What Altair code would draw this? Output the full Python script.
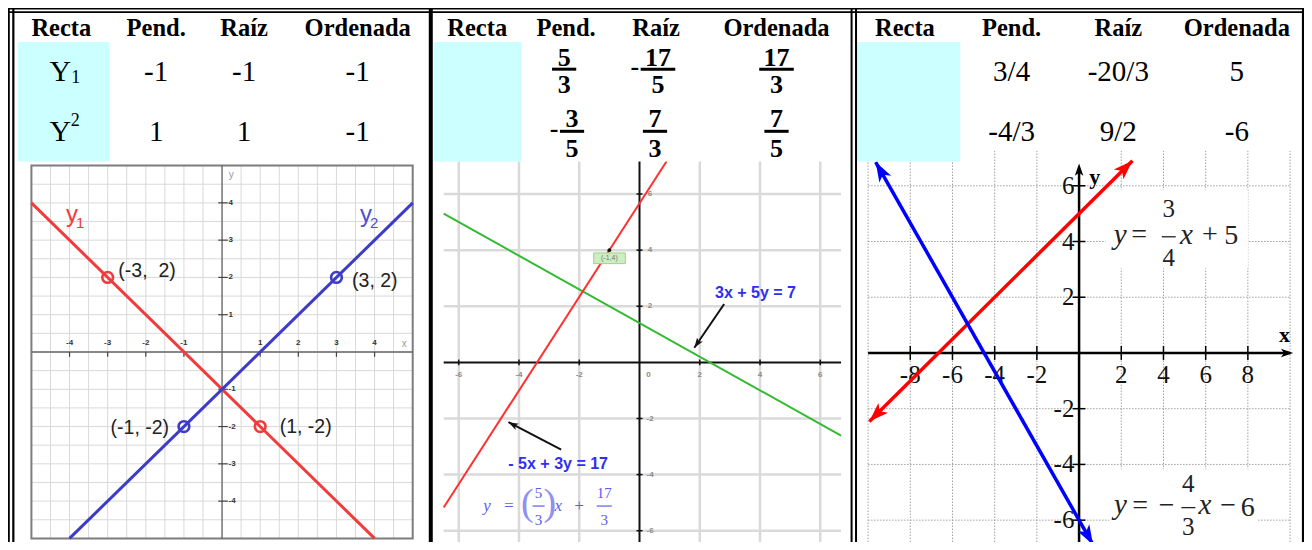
import math
import altair as alt
import pandas as pd

# ------------------------------------------------------------------ data
HEADERS = ["Recta", "Pend.", "Raíz", "Ordenada"]

T1_NAMES = ["Y", "Y"]
T1_INDEX = ["1", "2"]                      # subscript / superscript
T1_VALUES = [["-1", "-1", "-1"], ["1", "1", "-1"]]

T2_SIGNS = [["", "-", ""], ["-", "", ""]]
T2_NUMS = [["5", "17", "17"], ["3", "7", "7"]]
T2_DENS = [["3", "5", "3"], ["5", "3", "5"]]

T3_VALUES = [["3/4", "-20/3", "5"], ["-4/3", "9/2", "-6"]]

# graph 1 : y1 = -x - 1 , y2 = x - 1
G1_Y1_X = [-5, 4]
G1_Y1_Y = [4, -5]
G1_Y2_X = [-4, 5]
G1_Y2_Y = [-5, 4]
G1_PT_X = [-3, 1, 3, -1]
G1_PT_Y = [2, -2, 2, -2]
G1_PT_LINE = ["y1", "y1", "y2", "y2"]
G1_PT_TEXT = ["(-3,\u00a0\u00a02)", "(1, -2)", "(3, 2)", "(-1, -2)"]
G1_TICKS = [-4, -3, -2, -1, 1, 2, 3, 4]
G1_GRID = [-5, -4.5, -4, -3.5, -3, -2.5, -2, -1.5, -1, -0.5, 0,
           0.5, 1, 1.5, 2, 2.5, 3, 3.5, 4, 4.5, 5]

# graph 2 : -5x + 3y = 17 , 3x + 5y = 7
G2_RED_X = [-6.5, 0.9]
G2_RED_Y = [-5.17, 7.17]
G2_GREEN_X = [-6.5, 6.69]
G2_GREEN_Y = [5.3, -2.61]
G2_POINT_X = [-1]
G2_POINT_Y = [4]
G2_POINT_TEXT = ["(-1,4)"]
G2_TICKS = [-6, -4, -2, 2, 4, 6]
G2_NOTES = ["3x + 5y = 7", "- 5x + 3y = 17"]
G2_NOTE_X = [3.85, -2.7]
G2_NOTE_Y = [2.49, -3.63]
G2_ARROW_FROM_X = [2.81, -2.60]
G2_ARROW_FROM_Y = [2.08, -3.11]
G2_ARROW_TO_X = [1.82, -4.35]
G2_ARROW_TO_Y = [0.52, -2.13]
G2_EQ_TEXT = ["y", "=", "x", "+"]
G2_EQ_X = [-5.06, -4.34, -2.70, -2.01]
G2_EQ_PAREN = ["(", ")"]
G2_EQ_PAREN_X = [-3.72, -2.98]
G2_EQ_NUM = ["5", "17"]
G2_EQ_DEN = ["3", "3"]
G2_EQ_FRAC_X = [-3.35, -1.17]

# graph 3 : y = 3/4 x + 5 , y = -4/3 x - 6
G3_RED_X = [-9.94, 2.53]
G3_RED_Y = [-2.46, 6.9]
G3_BLUE_X = [-9.64, 0.66]
G3_BLUE_Y = [6.85, -6.88]
G3_XTICKS = [-8, -6, -4, -2, 2, 4, 6, 8]
G3_YTICKS = [-6, -4, -2, 2, 4, 6]
G3_GRID_X = [-10, -8, -6, -4, -2, 2, 4, 6, 8, 10]
G3_EQ_TEXT = ["y", "=", "x", "+", "5", "y", "=", "\u2212", "x", "\u2212", "6"]
G3_EQ_X = [1.95, 2.85, 5.09, 6.20, 7.21, 1.96, 2.90, 4.15, 5.96, 7.06, 7.99]
G3_EQ_Y = [4.25, 4.22, 4.25, 4.22, 4.19, -5.45, -5.50, -5.50, -5.45, -5.50, -5.55]
G3_EQ_ITALIC = [True, False, True, False, False, True, False, False, True, False, False]
G3_EQ_NUM = ["3", "4"]
G3_EQ_DEN = ["4", "3"]
G3_EQ_FRAC_X = [4.25, 5.18]
G3_EQ_NUM_Y = [5.16, -4.72]
G3_EQ_BAR_Y = [4.17, -5.55]
G3_EQ_DEN_Y = [3.41, -6.25]

# ------------------------------------------------------------------ layout
W, H = 1296, 534
RW, RH = 1312, 550
SX, SY = W / RW, H / RH
SERIF = "Liberation Serif"
SANS = "Liberation Sans"
ARROW = "M0,0L0.7,2L0,1.5L-0.7,2Z"

# frame -> (x origin, x unit, y origin, y unit) in reference pixels
FRAMES = {
    "t": (0.0, 1.0, 0.0, -1.0),
    "g1": (216.7, 38.6, 354.3, 38.4),
    "g2": (639.3, 30.5, 365.0, 28.9),
    "g3": (1084.3, 21.36, 355.3, 28.7),
}

HEAD_Y = 22
ROW_Y = [65.5, 127.5]
P1_COLS = [54, 150, 239, 354]
P2_COLS = [475, 565, 656, 778]
P3_COLS = [908, 1016, 1124, 1244]
FR_CX = [[563, 658, 778], [571, 655, 778]]
FR_NUM_Y = [51, 114]
FR_BAR_Y = [63, 127]
FR_DEN_Y = [79, 145]
COVERS = [(7, 425, 6, 158), (431, 853, 6, 158), (860, 1309, 6, 147)]
CYAN = [(10, 103, 35, 158), (431, 520, 35, 158), (859, 964, 35, 158)]
BORDER_H = [(0.8, 1.6), (4.3, 1.6)]
BORDER_V = [(0.9, 1.8), (5.4, 2.2), (428, 4.0), (854, 2.0), (858.5, 2.0), (1311, 2.2)]


def df(**cols):
    n = 1
    for v in cols.values():
        if isinstance(v, (list, tuple)):
            n = len(v)
    return pd.DataFrame({k: (list(v) if isinstance(v, (list, tuple)) else [v] * n)
                         for k, v in cols.items()})


def scales(frame):
    ox, ux, oy, uy = FRAMES[frame]
    xs = alt.Scale(domain=[-ox / ux, (RW - ox) / ux], zero=False, nice=False)
    ys = alt.Scale(domain=[(oy - RH) / uy, oy / uy], zero=False, nice=False)
    return xs, ys


def lay(frame, data, mark, mark_kw, **enc):
    xs, ys = scales(frame)
    e = {"x": alt.X("x:Q", scale=xs, axis=None), "y": alt.Y("y:Q", scale=ys, axis=None)}
    if "x2" in data.columns:
        e["x2"] = alt.X2("x2:Q")
    if "y2" in data.columns:
        e["y2"] = alt.Y2("y2:Q")
    e.update(enc)
    return getattr(alt.Chart(data), "mark_" + mark)(**mark_kw).encode(**e)


def rule(frame, data, color, width, dash=None):
    kw = dict(color=color, strokeWidth=width)
    if dash:
        kw["strokeDash"] = dash
    return lay(frame, data, "rule", kw)


def text(frame, data, size, color="black", font=SERIF, weight="normal",
         style="normal", align="center", baseline="middle"):
    return lay(frame, data, "text",
               dict(fontSize=size, color=color, font=font, fontWeight=weight,
                    fontStyle=style, align=align, baseline=baseline),
               text=alt.Text("t:N"))


def head_angle(frame, x0, y0, x1, y1):
    ox, ux, oy, uy = FRAMES[frame]
    dx = (x1 - x0) * ux * SX
    dy = -(y1 - y0) * uy * SY
    return math.degrees(math.atan2(dx, -dy)) % 360


def heads(frame, segs, color, size):
    rows = [{"x": s[2], "y": s[3], "a": head_angle(frame, *s)} for s in segs]
    return lay(frame, pd.DataFrame(rows), "point",
               dict(shape=ARROW, filled=True, size=size, color=color, opacity=1, strokeWidth=0),
               angle=alt.Angle("a:Q", scale=None))


L = []

# ================================================================ graph 1
RED1, BLUE1 = "#f03c3c", "#3c3cc8"
L.append(rule("g1", df(x=G1_GRID, y=-5, y2=5), "#d9d9d9", 1))
L.append(rule("g1", df(y=G1_GRID, x=-5, x2=5), "#d9d9d9", 1))
L.append(lay("g1", df(x=-5, x2=5, y=-5, y2=5), "rect",
             dict(fillOpacity=0, stroke="#7d7d7d", strokeWidth=2)))
L.append(rule("g1", df(x=-5, x2=5, y=0), "#666666", 1.3))
L.append(rule("g1", df(x=0, y=-5, y2=5), "#666666", 1.3))
L.append(rule("g1", df(x=G1_TICKS, y=0, y2=-0.13), "#444444", 1.2))
L.append(rule("g1", df(y=G1_TICKS, x=-0.1, x2=0.15), "#444444", 1.2))
L.append(text("g1", df(x=G1_TICKS, y=0.24, t=[str(v) for v in G1_TICKS]), 8,
              color="#333333", font=SANS, weight="bold"))
L.append(text("g1", df(x=0.17, y=G1_TICKS, t=[str(v) for v in G1_TICKS]), 8,
              color="#333333", font=SANS, weight="bold", align="left"))
L.append(text("g1", df(x=[0.24, 4.78], y=[4.75, 0.22], t=["y", "x"]), 10,
              color="#9a9a9a", font=SANS))
L.append(lay("g1", df(x=G1_Y1_X, y=G1_Y1_Y), "line", dict(color=RED1, strokeWidth=3)))
L.append(lay("g1", df(x=G1_Y2_X, y=G1_Y2_Y), "line", dict(color=BLUE1, strokeWidth=3)))
pts = df(x=G1_PT_X, y=G1_PT_Y, s=G1_PT_LINE, t=G1_PT_TEXT)
for name, col in (("y1", RED1), ("y2", BLUE1)):
    L.append(lay("g1", pts[pts.s == name], "point",
                 dict(shape="circle", filled=False, size=115, strokeWidth=2.6,
                      color=col, opacity=1)))
# point labels (left of / right of the point)
L.append(text("g1", df(x=[-2.72, 1.51, 3.41], y=[2.17, -2.0, 1.9],
                       t=[G1_PT_TEXT[0], G1_PT_TEXT[1], G1_PT_TEXT[2]]), 19.5,
              color="#222222", font=SANS, align="left"))
L.append(text("g1", df(x=[-1.39], y=[-2.04], t=[G1_PT_TEXT[3]]), 19.5,
              color="#222222", font=SANS, align="right"))
L.append(text("g1", df(x=[-4.09], y=[3.68], t=["y"]), 24, color=RED1, font=SANS, align="left"))
L.append(text("g1", df(x=[-3.72], y=[3.46], t=["1"]), 15, color=RED1, font=SANS))
L.append(text("g1", df(x=[3.62], y=[3.68], t=["y"]), 24, color="#5050d0", font=SANS, align="left"))
L.append(text("g1", df(x=[3.99], y=[3.46], t=["2"]), 15, color="#5050d0", font=SANS))

# ================================================================ graph 2
L.append(rule("g2", df(x=G2_TICKS, y=-6.8, y2=7.3), "#dadada", 2.5))
L.append(rule("g2", df(y=G2_TICKS, x=-6.5, x2=6.69), "#dadada", 2.5))
L.append(rule("g2", df(x=-6.5, x2=6.69, y=0), "#111111", 2))
L.append(rule("g2", df(x=0, y=-6.8, y2=7.3), "#111111", 2))
L.append(rule("g2", df(x=G2_TICKS, y=-0.1, y2=0.1), "#111111", 1.5))
L.append(rule("g2", df(y=G2_TICKS, x=-0.1, x2=0.1), "#111111", 1.5))
L.append(text("g2", df(x=G2_TICKS + [0.3], y=-0.44, t=[str(v) for v in G2_TICKS] + ["0"]), 8,
              color="#8a8a8a", font=SANS, weight="bold"))
L.append(text("g2", df(x=0.35, y=G2_TICKS, t=[str(v) for v in G2_TICKS]), 8,
              color="#8a8a8a", font=SANS, weight="bold"))
L.append(lay("g2", df(x=G2_GREEN_X, y=G2_GREEN_Y), "line", dict(color="#33bb33", strokeWidth=2)))
L.append(lay("g2", df(x=G2_RED_X, y=G2_RED_Y), "line", dict(color="#ff3030", strokeWidth=2)))
L.append(lay("g2", df(x=-1.52, x2=-0.47, y=3.9, y2=3.52), "rect",
             dict(color="#cdeec0", stroke="#9fd08f", strokeWidth=1)))
L.append(text("g2", df(x=[-1.0], y=[3.71], t=G2_POINT_TEXT), 7, color="#777777", font=SANS))
L.append(lay("g2", df(x=G2_POINT_X, y=G2_POINT_Y), "point",
             dict(shape="circle", filled=True, size=14, color="#111111", opacity=1)))
L.append(rule("g2", df(x=G2_ARROW_FROM_X, y=G2_ARROW_FROM_Y, x2=G2_ARROW_TO_X, y2=G2_ARROW_TO_Y),
              "#111111", 2))
L.append(heads("g2", [(G2_ARROW_FROM_X[i], G2_ARROW_FROM_Y[i], G2_ARROW_TO_X[i], G2_ARROW_TO_Y[i])
                      for i in range(2)], "#111111", 100))
L.append(text("g2", df(x=G2_NOTE_X, y=G2_NOTE_Y, t=G2_NOTES), 16, color="#2f2ff0",
              font=SANS, weight="bold"))
EQ2C = "#5b5bf5"
L.append(text("g2", df(x=G2_EQ_X, y=-5.12, t=G2_EQ_TEXT), 17, color=EQ2C, style="italic"))
L.append(text("g2", df(x=G2_EQ_PAREN_X, y=-5.05, t=G2_EQ_PAREN), 38, color="#9090f0"))
L.append(text("g2", df(x=G2_EQ_FRAC_X, y=-4.67, t=G2_EQ_NUM), 15, color=EQ2C))
L.append(text("g2", df(x=G2_EQ_FRAC_X, y=-5.63, t=G2_EQ_DEN), 15, color=EQ2C))
L.append(rule("g2", df(x=[-3.55, -1.42], x2=[-3.15, -0.92], y=-5.12), EQ2C, 1.2))

# ================================================================ graph 3
DOT = [1.5, 1.5]
L.append(rule("g3", df(x=G3_GRID_X, y=-7.0, y2=7.3), "#a0a0a0", 1, DOT))
L.append(rule("g3", df(y=G3_YTICKS, x=-10, x2=10), "#a0a0a0", 1, DOT))
L.append(lay("g3", df(x=[1.25, 1.43], x2=[8.0, 8.46], y=[3.04, -7.2], y2=[5.85, -4.17]), "rect",
             dict(color="white")))
L.append(rule("g3", df(x=-10, x2=10.0, y=0), "#000000", 2.5))
L.append(rule("g3", df(x=0, y=-7.0, y2=6.5), "#000000", 2.5))
L.append(heads("g3", [(0, 0, 10.15, 0), (0, 0, 0, 6.8)], "#000000", 150))
L.append(rule("g3", df(x=G3_XTICKS, y=-0.25, y2=0.25), "#000000", 1.5))
L.append(rule("g3", df(y=G3_YTICKS, x=-0.3, x2=0.3), "#000000", 1.5))
L.append(text("g3", df(x=G3_XTICKS, y=-0.78, t=[str(v) for v in G3_XTICKS]), 25, color="#111111"))
L.append(text("g3", df(x=-0.22, y=G3_YTICKS, t=[str(v) for v in G3_YTICKS]), 25,
              color="#111111", align="right"))
L.append(text("g3", df(x=[9.74, 0.74], y=[0.66, 6.3], t=["x", "y"]), 22, weight="bold"))
L.append(lay("g3", df(x=G3_RED_X, y=G3_RED_Y), "line", dict(color="#ff0000", strokeWidth=3.5)))
L.append(lay("g3", df(x=G3_BLUE_X, y=G3_BLUE_Y), "line", dict(color="#0000ff", strokeWidth=3.5)))
L.append(heads("g3", [(G3_RED_X[1], G3_RED_Y[1], G3_RED_X[0], G3_RED_Y[0]),
                      (G3_RED_X[0], G3_RED_Y[0], G3_RED_X[1], G3_RED_Y[1])], "#ff0000", 380))
L.append(heads("g3", [(G3_BLUE_X[1], G3_BLUE_Y[1], G3_BLUE_X[0], G3_BLUE_Y[0]),
                      (G3_BLUE_X[0], G3_BLUE_Y[0], G3_BLUE_X[1], G3_BLUE_Y[1])], "#0000ff", 380))
eq3 = df(x=G3_EQ_X, y=G3_EQ_Y, t=G3_EQ_TEXT, i=G3_EQ_ITALIC)
L.append(text("g3", eq3[eq3.i], 29, color="#222222", style="italic"))
L.append(text("g3", eq3[~eq3.i], 28, color="#222222"))
L.append(text("g3", df(x=G3_EQ_FRAC_X, y=G3_EQ_NUM_Y, t=G3_EQ_NUM), 25, color="#222222"))
L.append(text("g3", df(x=G3_EQ_FRAC_X, y=G3_EQ_DEN_Y, t=G3_EQ_DEN), 25, color="#222222"))
L.append(rule("g3", df(x=[x - 0.33 for x in G3_EQ_FRAC_X], x2=[x + 0.33 for x in G3_EQ_FRAC_X],
                       y=G3_EQ_BAR_Y), "#222222", 1.3))

# ================================================================ tables
L.append(lay("t", df(x=[c[0] for c in COVERS], x2=[c[1] for c in COVERS],
                     y=[c[2] for c in COVERS], y2=[c[3] for c in COVERS]), "rect", dict(color="white")))
L.append(lay("t", df(x=[c[0] for c in CYAN], x2=[c[1] for c in CYAN],
                     y=[c[2] for c in CYAN], y2=[c[3] for c in CYAN]), "rect", dict(color="#ccffff")))
L.append(text("t", df(x=P1_COLS + P2_COLS + P3_COLS, y=HEAD_Y, t=HEADERS * 3), 24.5, weight="bold"))

# table 1
L.append(text("t", df(x=53, y=ROW_Y, t=T1_NAMES), 30))
L.append(text("t", df(x=[68.5, 68], y=[72, 116.5], t=T1_INDEX), 18))
t1 = [{"x": P1_COLS[c + 1], "y": ROW_Y[r], "t": T1_VALUES[r][c]} for r in range(2) for c in range(3)]
L.append(text("t", pd.DataFrame(t1), 29))

# table 2 (fractions)
nums, dens, bars, signs = [], [], [], []
for r in range(2):
    for c in range(3):
        cx = FR_CX[r][c]
        w = 14 + 10.5 * max(len(T2_NUMS[r][c]), len(T2_DENS[r][c]))
        nums.append({"x": cx, "y": FR_NUM_Y[r], "t": T2_NUMS[r][c]})
        dens.append({"x": cx, "y": FR_DEN_Y[r], "t": T2_DENS[r][c]})
        bars.append({"x": cx - w / 2, "x2": cx + w / 2, "y": FR_BAR_Y[r]})
        if T2_SIGNS[r][c]:
            signs.append({"x": cx - w / 2 - 6, "y": FR_BAR_Y[r] - 2, "t": T2_SIGNS[r][c]})
L.append(text("t", pd.DataFrame(nums), 26, weight="bold"))
L.append(text("t", pd.DataFrame(dens), 26, weight="bold"))
L.append(text("t", pd.DataFrame(signs), 26, weight="bold"))
L.append(rule("t", pd.DataFrame(bars), "#000000", 3))

# table 3
t3 = [{"x": P3_COLS[c + 1], "y": ROW_Y[r], "t": T3_VALUES[r][c]} for r in range(2) for c in range(3)]
L.append(text("t", pd.DataFrame(t3), 29))

# borders
L.append(lay("t", df(x=0, x2=RW, y=[b[0] for b in BORDER_H], w=[b[1] for b in BORDER_H]), "rule",
             dict(color="#000000"), strokeWidth=alt.StrokeWidth("w:Q", scale=None)))
L.append(lay("t", df(y=0, y2=RH, x=[b[0] for b in BORDER_V], w=[b[1] for b in BORDER_V]), "rule",
             dict(color="#000000"), strokeWidth=alt.StrokeWidth("w:Q", scale=None)))

chart = (
    alt.layer(*L)
    .resolve_scale(x="independent", y="independent")
    .properties(width=W, height=H, padding=0, autosize=alt.AutoSizeParams(type="none"),
                background="white")
    .configure_view(stroke="transparent")
)

chart.save("out.html", embed_options={"renderer": "svg", "actions": False})
